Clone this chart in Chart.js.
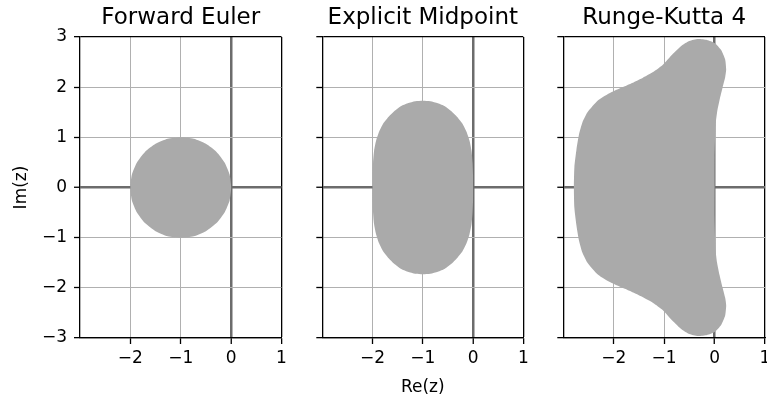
<!DOCTYPE html>
<html><head><meta charset="utf-8">
<script src="https://cdn.jsdelivr.net/npm/chart.js@4.4.1/dist/chart.umd.min.js"></script>
<style>
html,body{margin:0;padding:0;background:#fff;width:767px;height:400px;overflow:hidden;}
canvas{position:absolute;left:0;top:0;}
</style>
</head><body>
<canvas id="c1" width="767" height="400"></canvas>
<canvas id="c2" width="767" height="400"></canvas>
<canvas id="c3" width="767" height="400"></canvas>
<script>
// ---- tick values / labels ----
const xTickValues = [-2, -1, 0, 1];
const xTickLabels = ['\u22122', '\u22121', '0', '1'];
const yTickValues = [-3, -2, -1, 0, 1, 2, 3];
const yTickLabels = ['\u22123', '\u22122', '\u22121', '0', '1', '2', '3'];
const titles = ['Forward Euler', 'Explicit Midpoint', 'Runge-Kutta 4'];

// ---- boundary of stability region: Forward Euler ----
const eulerX = [-1, -1.26, -1.5, -1.71, -1.87, -1.97, -2, -1.97, -1.87, -1.71, -1.5, -1.26, -1, -0.74, -0.5, -0.29, -0.13, -0.03, 0, -0.03, -0.13, -0.29, -0.5, -0.74, -1];
const eulerY = [1, 0.97, 0.87, 0.71, 0.5, 0.26, 0, -0.26, -0.5, -0.71, -0.87, -0.97, -1, -0.97, -0.87, -0.71, -0.5, -0.26, 0, 0.26, 0.5, 0.71, 0.87, 0.97, 1];

// ---- Explicit Midpoint ----
const midX = [0, 0, -0.01, -0.03, -0.07, -0.13, -0.21, -0.32, -0.43, -0.56, -0.7, -0.85, -1, -1.15, -1.3, -1.44, -1.57, -1.68, -1.79, -1.87, -1.93, -1.97, -1.99, -2, -2,
  -2, -1.99, -1.97, -1.93, -1.87, -1.79, -1.68, -1.57, -1.44, -1.3, -1.15, -1, -0.85, -0.7, -0.56, -0.43, -0.32, -0.21, -0.13, -0.07, -0.03, -0.01, 0, 0];
const midY = [0, 0.26, 0.5, 0.73, 0.93, 1.11, 1.27, 1.41, 1.52, 1.62, 1.68, 1.72, 1.73, 1.72, 1.68, 1.62, 1.52, 1.41, 1.27, 1.11, 0.93, 0.73, 0.5, 0.26, 0,
  -0.26, -0.5, -0.73, -0.93, -1.11, -1.27, -1.41, -1.52, -1.62, -1.68, -1.72, -1.73, -1.72, -1.68, -1.62, -1.52, -1.41, -1.27, -1.11, -0.93, -0.73, -0.5, -0.26, 0];

// ---- Runge-Kutta 4 ----
const rk4X = [0, 0, 0.01, 0.02, 0.05, 0.1, 0.16, 0.21, 0.23, 0.21, 0.13, 0, -0.15, -0.33, -0.5, -0.65, -0.83, -1.03, -1.22, -1.42, -1.6, -1.78, -2.05, -2.31, -2.52, -2.62, -2.69, -2.74, -2.78, -2.79,
  -2.78, -2.74, -2.69, -2.62, -2.52, -2.31, -2.05, -1.78, -1.6, -1.42, -1.22, -1.03, -0.83, -0.65, -0.5, -0.33, -0.15, 0, 0.13, 0.21, 0.23, 0.21, 0.16, 0.1, 0.05, 0.02, 0.01, 0, 0];
const rk4Y = [0, 0.6, 1, 1.25, 1.5, 1.75, 2, 2.2, 2.35, 2.55, 2.74, 2.88, 2.94, 2.96, 2.92, 2.83, 2.66, 2.44, 2.3, 2.19, 2.1, 2.02, 1.9, 1.74, 1.5, 1.3, 1.05, 0.75, 0.41, 0,
  -0.41, -0.75, -1.05, -1.3, -1.5, -1.74, -1.9, -2.02, -2.1, -2.19, -2.3, -2.44, -2.66, -2.83, -2.92, -2.96, -2.94, -2.88, -2.74, -2.55, -2.35, -2.2, -2, -1.75, -1.5, -1.25, -1, -0.6, 0];

const FONT = 'DejaVu Sans';
const FILL = '#aaaaaa';
const GRID = '#b0b0b0';
const AXIS0 = '#6c6c6c';

function zeroPad(s) { s.paddingLeft = 0; s.paddingRight = 0; s.paddingTop = 0; s.paddingBottom = 0; }

function makeChart(id, title, xs, ys, area, firstCol, showXTitle) {
  const pts = xs.map((x, i) => ({x: x, y: ys[i]}));
  const yW = firstCol ? 80 : 6;
  return new Chart(document.getElementById(id), {
    type: 'line',
    data: {datasets: [{
      data: pts, fill: 'shape', backgroundColor: FILL, borderColor: 'rgba(0,0,0,0)',
      borderWidth: 0, pointRadius: 0, tension: 0.2
    }]},
    options: {
      responsive: false, animation: false, devicePixelRatio: 1,
      events: [],
      layout: {padding: {left: area.left - yW, right: 767 - area.right, top: 0, bottom: 0}},
      plugins: {legend: {display: false}, tooltip: {enabled: false}, title: {display: false}},
      scales: {
        x: {
          type: 'linear', min: -3, max: 1, z: 1,
          afterBuildTicks: s => { s.ticks = xTickValues.map(v => ({value: v})); },
          afterFit: s => { s.height = 62; zeroPad(s); },
          ticks: {
            autoSkip: false, maxRotation: 0, color: '#000', padding: 4,
            font: {family: FONT, size: 17},
            callback: v => xTickLabels[xTickValues.indexOf(v)]
          },
          grid: {
            color: c => c.tick.value === 0 ? AXIS0 : (c.tick.value === 1 ? '#000' : GRID),
            lineWidth: c => c.tick.value === 0 ? 2.5 : (c.tick.value === 1 ? 1.3 : 1),
            drawTicks: true, tickLength: 6, tickColor: '#000', tickWidth: 1.3
          },
          border: {display: true, color: '#000', width: 1.3},
          title: {display: showXTitle, text: 'Re(z)', color: '#000',
            font: {family: FONT, size: 17, lineHeight: 1.2}, padding: {top: 0, bottom: 2}}
        },
        xTop: {
          type: 'linear', position: 'top', min: -3, max: 1, z: 1,
          afterFit: s => { s.height = 37; zeroPad(s); },
          ticks: {display: false},
          grid: {display: false, drawTicks: false},
          border: {display: false},
          title: {display: true, text: title, color: '#000',
            font: {family: FONT, size: 23, lineHeight: 1.2}, padding: {top: 4, bottom: 0}}
        },
        y: {
          type: 'linear', min: -3, max: 3, z: 1,
          afterBuildTicks: s => { s.ticks = yTickValues.map(v => ({value: v})); },
          afterFit: s => { s.width = yW; zeroPad(s); },
          ticks: {
            autoSkip: false, color: '#000', padding: 7,
            font: {family: FONT, size: 17},
            callback: v => firstCol ? yTickLabels[yTickValues.indexOf(v)] : ''
          },
          grid: {
            color: c => c.tick.value === 0 ? AXIS0 : (Math.abs(c.tick.value) === 3 ? '#000' : GRID),
            lineWidth: c => c.tick.value === 0 ? 2.5 : (Math.abs(c.tick.value) === 3 ? 1.3 : 1),
            drawTicks: true, tickLength: 6, tickColor: '#000', tickWidth: 1.3
          },
          border: {display: true, color: '#000', width: 1.3},
          title: {display: firstCol, text: 'Im(z)', color: '#000',
            font: {family: FONT, size: 17, lineHeight: 1.2}, padding: {top: 11, bottom: 0}}
        }
      }
    }
  });
}

makeChart('c1', titles[0], eulerX, eulerY, {left: 80, right: 281.5}, true, false);
makeChart('c2', titles[1], midX, midY, {left: 322.3, right: 523.3}, false, true);
makeChart('c3', titles[2], rk4X, rk4Y, {left: 563.3, right: 765}, false, false);
</script>
</body></html>
